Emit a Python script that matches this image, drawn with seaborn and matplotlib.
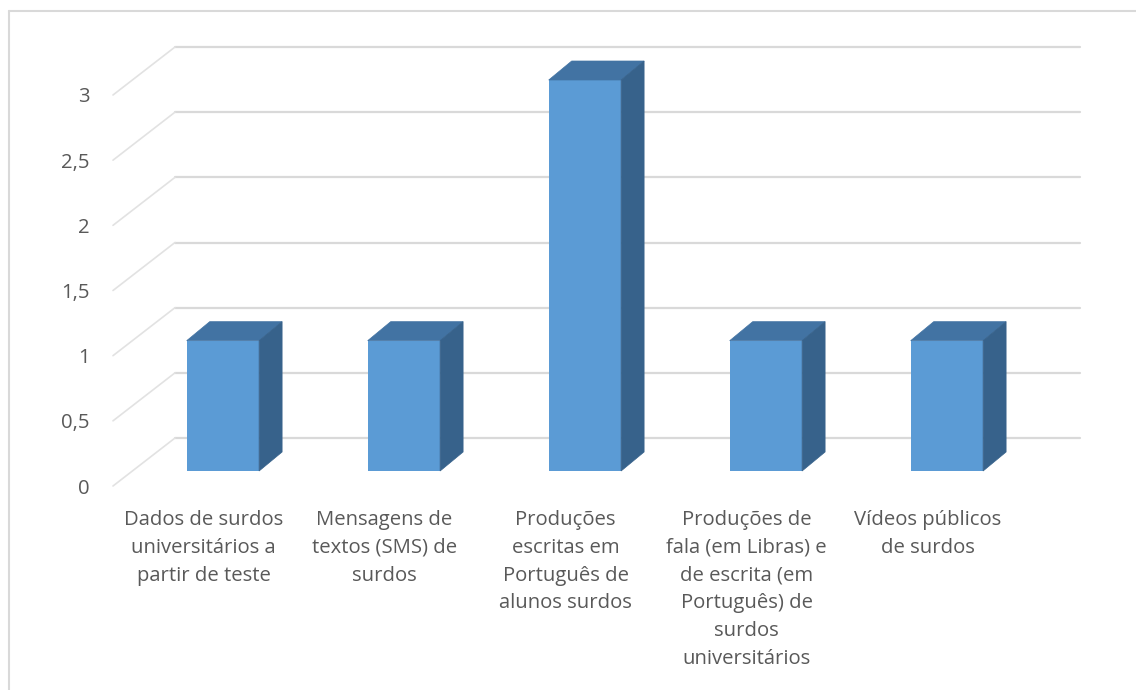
import matplotlib
matplotlib.use("Agg")
import matplotlib.pyplot as plt
import matplotlib.transforms as mtransforms
from matplotlib.patches import Polygon
from matplotlib.lines import Line2D
import seaborn as sns

# Data
categories = [
    "Dados de surdos universitários a partir de teste",
    "Mensagens de textos (SMS) de surdos",
    "Produções escritas em Português de alunos surdos",
    "Produções de fala (em Libras) e de escrita (em Português) de surdos universitários",
    "Vídeos públicos de surdos",
]
values = [1, 1, 3, 1, 1]
tick_labels = [
    "Dados de surdos\nuniversitários a\npartir de teste",
    "Mensagens de\ntextos (SMS) de\nsurdos",
    "Produções\nescritas em\nPortuguês de\nalunos surdos",
    "Produções de\nfala (em Libras) e\nde escrita (em\nPortuguês) de\nsurdos\nuniversitários",
    "Vídeos públicos\nde surdos",
]
y_ticks = [0, 0.5, 1, 1.5, 2, 2.5, 3]
y_tick_labels = ["0", "0,5", "1", "1,5", "2", "2,5", "3"]

sns.set_theme(style="white")
plt.rcParams["font.family"] = ["Open Sans", "DejaVu Sans"]

W, H, DPI = 1136, 690, 100
fig = plt.figure(figsize=(W / DPI, H / DPI), dpi=DPI)
fig.patch.set_facecolor("white")

# axes spans the plane of the bar fronts
left_px, right_px = 132.4, 1037.4
base_px, top_px = 471, 80
ax = fig.add_axes([left_px / W, (H - base_px) / H,
                   (right_px - left_px) / W, (base_px - top_px) / H])
ax.set_facecolor("none")

front = "#5B9BD5"
top_col = "#4273A3"
side_col = "#37628B"
grid_col = "#D9D9D9"
side_grid_col = "#E2E2E2"
text_col = "#595959"
fs = 14.6

sns.barplot(x=categories, y=values, color=front, saturation=1, width=0.4,
            ax=ax, zorder=3, linewidth=0)
ax.set_xlim(-0.5, len(categories) - 0.5)
ax.set_ylim(0, 3)
for s in ax.spines.values():
    s.set_visible(False)


def shifted(dx, dy):
    """Data transform shifted by (dx, dy) pixels (dy positive = up)."""
    return ax.transData + mtransforms.ScaledTranslation(dx / DPI, dy / DPI, fig.dpi_scale_trans)


back_dx, back_dy = 42.6, 33.0
front_dx, front_dy = -19.4, -15.0
depth_dx, depth_dy = 23.0, 19.0

# back wall gridlines and side wall lines
x0, x1 = ax.get_xlim()
for v in y_ticks:
    ax.add_line(Line2D([x0, x1], [v, v], color=grid_col, lw=1.6,
                       transform=shifted(back_dx, back_dy), clip_on=False, zorder=0))
    p_front = shifted(front_dx, front_dy).transform((x0, v))
    p_back = shifted(back_dx, back_dy).transform((x0, v))
    ax.add_line(Line2D([p_front[0], p_back[0]], [p_front[1], p_back[1]],
                       color=side_grid_col, lw=1.2, transform=None, clip_on=False, zorder=0))

# 3D faces of each bar
for p in ax.patches[:len(values)]:
    bx, by = p.get_x(), p.get_y()
    bw, bh = p.get_width(), p.get_height()
    to_disp = ax.transData.transform
    br = to_disp((bx + bw, by))
    tl = to_disp((bx, by + bh))
    tr = to_disp((bx + bw, by + bh))
    d = (depth_dx, depth_dy)
    top_face = [tl, tr, (tr[0] + d[0], tr[1] + d[1]), (tl[0] + d[0], tl[1] + d[1])]
    side_face = [br, tr, (tr[0] + d[0], tr[1] + d[1]), (br[0] + d[0], br[1] + d[1])]
    ax.add_patch(Polygon(top_face, closed=True, facecolor=top_col, edgecolor=top_col,
                         lw=0.5, transform=None, clip_on=False, zorder=3))
    ax.add_patch(Polygon(side_face, closed=True, facecolor=side_col, edgecolor=side_col,
                         lw=0.5, transform=None, clip_on=False, zorder=3))

# y tick labels on the front plane
ax.set_yticks(y_ticks)
ax.set_yticklabels(y_tick_labels, fontsize=fs, color=text_col)
ax.tick_params(axis="y", length=0, pad=17)
for lbl in ax.get_yticklabels():
    lbl.set_transform(lbl.get_transform() +
                      mtransforms.ScaledTranslation(front_dx / DPI, front_dy / DPI, fig.dpi_scale_trans))

# category labels on the front plane
ax.set_xticks(range(len(categories)))
ax.set_xticklabels(tick_labels, fontsize=fs, color=text_col, linespacing=1.53)
ax.tick_params(axis="x", length=0, pad=17)
for lbl in ax.get_xticklabels():
    lbl.set_transform(lbl.get_transform() +
                      mtransforms.ScaledTranslation(front_dx / DPI, front_dy / DPI, fig.dpi_scale_trans))
ax.set_xlabel("")
ax.set_ylabel("")

# chart area border
fig.add_artist(Line2D([8.5 / W, 1.0], [1 - 11 / H, 1 - 11 / H], color=grid_col, lw=1.5,
                      transform=fig.transFigure))
fig.add_artist(Line2D([8.5 / W, 8.5 / W], [0, 1 - 11 / H], color=grid_col, lw=1.5,
                      transform=fig.transFigure))

fig.savefig("out.png", dpi=DPI, facecolor="white")
